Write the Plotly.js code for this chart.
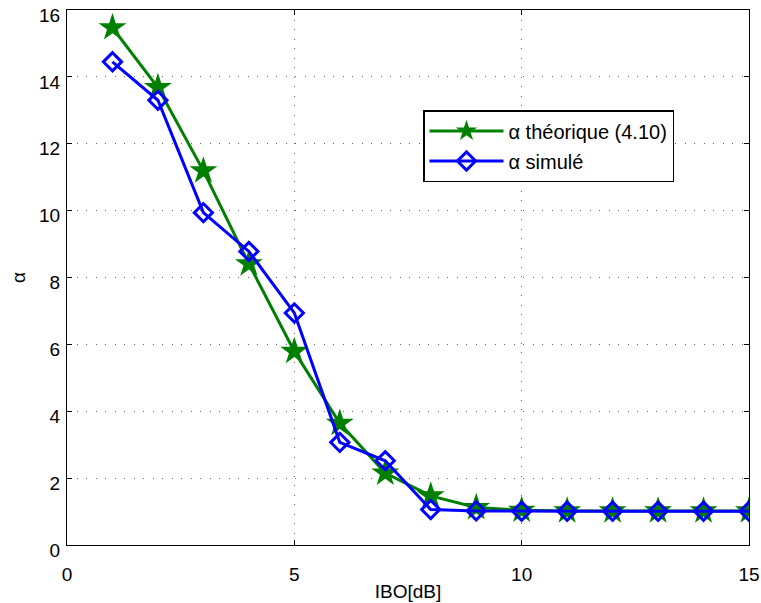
<!DOCTYPE html>
<html>
<head>
<meta charset="utf-8">
<script src="https://cdn.plot.ly/plotly-3.0.1.min.js"></script>
<style>html,body{margin:0;padding:0;background:#fff;}#chart{width:761px;height:603px;}</style>
</head>
<body>
<div id="chart"></div>
<script>
const ibo = [1, 2, 3, 4, 5, 6, 7, 8, 9, 10, 11, 12, 13, 14, 15];
const alphaTheorique = [15.47, 13.68, 11.19, 8.41, 5.79, 3.64, 2.15, 1.47, 1.12, 1.04, 1.02, 1.02, 1.02, 1.02, 1.02];
const alphaSimule = [14.45, 13.3, 9.94, 8.78, 6.94, 3.07, 2.52, 1.06, 1.02, 1.01, 1.01, 1.01, 1.01, 1.01, 1.01];
const nameTheorique = 'α théorique (4.10)';
const nameSimule = 'α simulé';

const FONT = 'Liberation Sans, Arial, sans-serif';

const traces = [
  {
    x: ibo, y: alphaTheorique, name: nameTheorique, type: 'scatter', mode: 'lines+markers',
    legendgroup: 'a',
    line: {color: '#008000', width: 3},
    marker: {symbol: 'star', size: 21, color: '#008000', line: {width: 0}}
  },
  {
    x: ibo, y: alphaSimule, name: nameSimule, type: 'scatter', mode: 'lines+markers',
    legendgroup: 'b',
    line: {color: '#0000ff', width: 3},
    marker: {symbol: 'diamond-open', size: 14, color: '#0000ff', line: {width: 3, color: '#0000ff'}}
  }
];

const axisCommon = {
  showline: true, linecolor: '#000', linewidth: 1, mirror: 'ticks',
  ticks: 'inside', ticklen: 5, tickcolor: '#000',
  showgrid: true, gridcolor: '#666', griddash: '1px,8.5px', gridwidth: 1,
  zeroline: false, ticklabeloverflow: 'allow',
  tickfont: {family: FONT, size: 19, color: '#000'}
};

const layout = {
  width: 761, height: 603,
  margin: {l: 67, r: 12, t: 10, b: 58},
  paper_bgcolor: '#fff', plot_bgcolor: '#fff',
  font: {family: FONT, size: 19, color: '#000'},
  xaxis: Object.assign({}, axisCommon, {
    range: [0, 15], tick0: 0, dtick: 5, ticklabelstandoff: 12,
    title: {text: 'IBO[dB]', font: {size: 19}, standoff: 0}
  }),
  yaxis: Object.assign({}, axisCommon, {
    range: [0, 16], tick0: 0, dtick: 2, ticklabelstandoff: 2, ticklabelshift: 5,
    title: {text: 'α', font: {size: 19}, standoff: 8}
  }),
  showlegend: true,
  legend: {
    x: 0.522, y: 0.813, xanchor: 'left', yanchor: 'top',
    bgcolor: '#fff', bordercolor: '#000', borderwidth: 1.5,
    font: {family: FONT, size: 20, color: '#000'}, itemwidth: 74,
    traceorder: 'grouped', tracegroupgap: 1
  }
};

Plotly.newPlot('chart', traces, layout, {displayModeBar: false, staticPlot: true});
</script>
</body>
</html>
